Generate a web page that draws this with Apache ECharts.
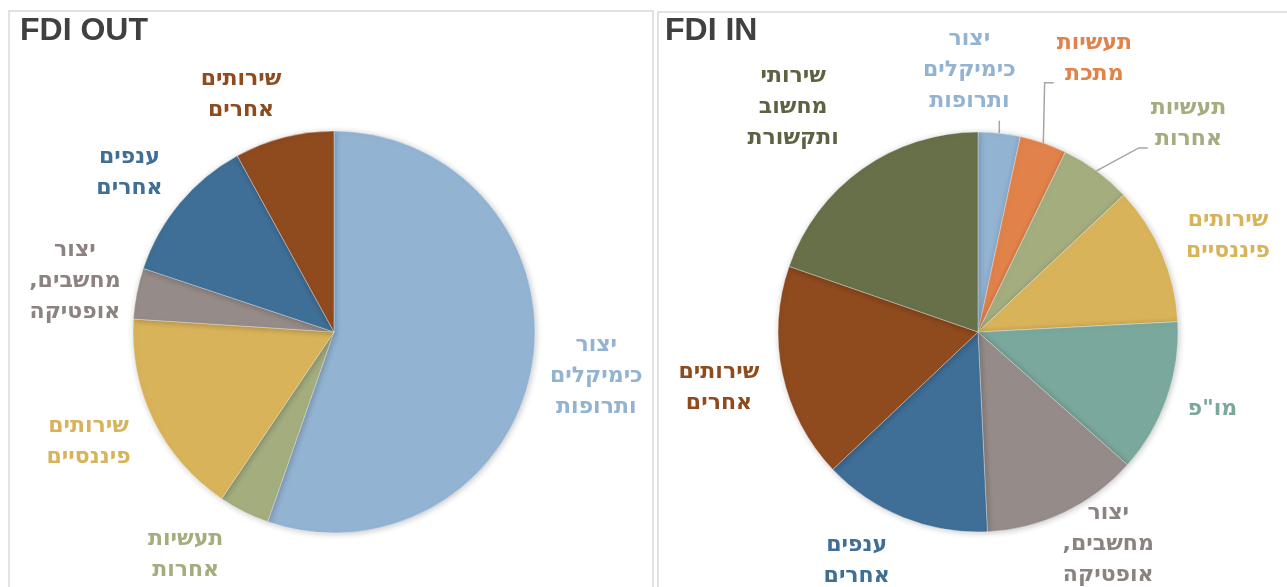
<!DOCTYPE html>
<html>
<head>
<meta charset="utf-8">
<script src="https://cdn.jsdelivr.net/npm/echarts@6/dist/echarts.min.js"></script>
<style>
  html, body { margin: 0; padding: 0; background: #fff; }
  #chart { width: 1287px; height: 587px; }
</style>
</head>
<body>
<div id="chart"></div>
<script>
// FDI OUT, clockwise from 12 o'clock (share %)
const outNames = ['יצור כימיקלים ותרופות', 'תעשיות אחרות', 'שירותים פיננסיים', 'יצור מחשבים,\u200F אופטיקה', 'ענפים אחרים', 'שירותים אחרים']
const outValues = [55.4, 4.1, 16.6, 4.1, 11.9, 8.0]

// FDI IN, clockwise from 12 o'clock (share %)
const inNames = ['יצור כימיקלים ותרופות', 'תעשיות מתכת', 'תעשיות אחרות', 'שירותים פיננסיים', 'מו"פ', 'יצור מחשבים,\u200F אופטיקה', 'ענפים אחרים', 'שירותים אחרים', 'שירותי מחשוב ותקשורת']
const inValues = [3.4, 3.8, 5.8, 11.2, 12.4, 12.7, 13.7, 17.4, 19.7]

const titles = ['FDI OUT', 'FDI IN']

// styles
const TITLE_FONT = "'Liberation Sans', 'DejaVu Sans', sans-serif"
const LABEL_FONT = "'DejaVu Sans', 'Liberation Sans', sans-serif"
const colorOf = {
    'יצור כימיקלים ותרופות': '#93B3D3',
    'תעשיות מתכת': '#E0824A',
    'תעשיות אחרות': '#A3AD7E',
    'שירותים פיננסיים': '#D9B35A',
    'מו"פ': '#7AA89C',
    'יצור מחשבים,\u200F אופטיקה': '#958B88',
    'ענפים אחרים': '#3F6E96',
    'שירותים אחרים': '#8F4A1E',
    'שירותי מחשוב ותקשורת': '#677048'
}
const textColorOf = { 'שירותי מחשוב ותקשורת': '#5C6342', 'יצור מחשבים,\u200F אופטיקה': '#8C8280' }
const leaderNames = ['יצור כימיקלים ותרופות', 'תעשיות מתכת', 'תעשיות אחרות']

const outCenter = [334, 332]
const inCenter = [978, 332]
const outRadius = 201
const inRadius = 200
// label distance from centre and angular nudge, per slice
const outLabelDist = [266, 268, 269, 264, 259, 255]
const outLabelShift = [0, 7, 2, 0, -2, -7]
const inLabelDist = [262, 297, 296, 268, 247, 249, 259, 265, 291]
const inLabelShift = [-8, 4, 9, 2, -1, -6, 6, 0, -4]

const rad = Math.PI / 180

const placeLabels = (names, values, center, radius, dists, shifts) => {
    const total = values.reduce((a, b) => a + b, 0)
    const mids = []
    let acc = 0
    values.forEach(v => { mids.push((acc + v / 2) / total * 360); acc += v })
    return (params) => {
        const i = params.dataIndex
        const a = (mids[i] + shifts[i]) * rad
        const x = center[0] + dists[i] * Math.sin(a)
        const y = center[1] - dists[i] * Math.cos(a)
        const out = { x, y, align: 'center', verticalAlign: 'middle' }
        if (leaderNames.includes(names[i]) && params.labelRect) {
            const w = params.labelRect.width
            const h = params.labelRect.height
            const m = mids[i] * rad
            const p1 = [center[0] + radius * Math.sin(m), center[1] - radius * Math.cos(m)]
            const left = x - w / 2
            const bottom = y + h / 2
            if (p1[0] > left && p1[0] < x + w / 2) {
                // label sits right above the slice: plain vertical tick
                const p3 = [p1[0], bottom + 4]
                out.labelLinePoints = [p1, p3, p3]
            } else {
                const p3 = [left - 3, bottom - 7]
                const p2 = [p3[0] - 9, p3[1]]
                out.labelLinePoints = [p1, p2, p3]
            }
        }
        return out
    }
}

const buildData = (names, values, withLeaders) => names.map((name, i) => ({
    name,
    value: values[i],
    itemStyle: { color: colorOf[name] },
    label: { color: textColorOf[name] || colorOf[name] },
    labelLine: { show: withLeaders && leaderNames.includes(name) }
}))

const pieSeries = (names, values, center, radius, dists, shifts, withLeaders) => ({
    type: 'pie',
    center,
    radius,
    startAngle: 90,
    clockwise: true,
    avoidLabelOverlap: false,
    animation: false,
    silent: true,
    itemStyle: {
        borderColor: 'rgba(255,255,255,0.6)',
        borderWidth: 0.6,
        shadowBlur: 6,
        shadowColor: 'rgba(0,0,0,0.22)',
        shadowOffsetX: 1,
        shadowOffsetY: 1
    },
    label: {
        position: 'outside',
        formatter: (p) => p.name.split(' ').join('\n'),
        fontFamily: LABEL_FONT,
        fontSize: 22,
        fontWeight: 'bold',
        lineHeight: 31
    },
    labelLine: {
        length: 8,
        length2: 6,
        lineStyle: { color: '#A6A6A6', width: 1.5 }
    },
    labelLayout: withLeaders
        ? placeLabels(names, values, center, radius, dists, shifts)
        : placeLabels([], values, center, radius, dists, shifts),
    data: buildData(names, values, withLeaders)
})

const chart = echarts.init(document.getElementById('chart'))
chart.setOption({
    backgroundColor: '#fff',
    animation: false,
    title: [
        { text: titles[0], left: 20, top: 15, padding: 0, textStyle: { fontFamily: TITLE_FONT, fontSize: 32, fontWeight: 'bold', color: '#404040' } },
        { text: titles[1], left: 665, top: 15, padding: 0, textStyle: { fontFamily: TITLE_FONT, fontSize: 32, fontWeight: 'bold', color: '#404040' } }
    ],
    graphic: [
        { type: 'rect', shape: { x: 9, y: 11, width: 644, height: 620 }, style: { fill: 'none', stroke: '#D9D9D9', lineWidth: 1.5 }, silent: true },
        { type: 'rect', shape: { x: 658, y: 12, width: 640, height: 620 }, style: { fill: 'none', stroke: '#D9D9D9', lineWidth: 1.5 }, silent: true }
    ],
    series: [
        pieSeries(outNames, outValues, outCenter, outRadius, outLabelDist, outLabelShift, false),
        pieSeries(inNames, inValues, inCenter, inRadius, inLabelDist, inLabelShift, true)
    ]
})
</script>
</body>
</html>
